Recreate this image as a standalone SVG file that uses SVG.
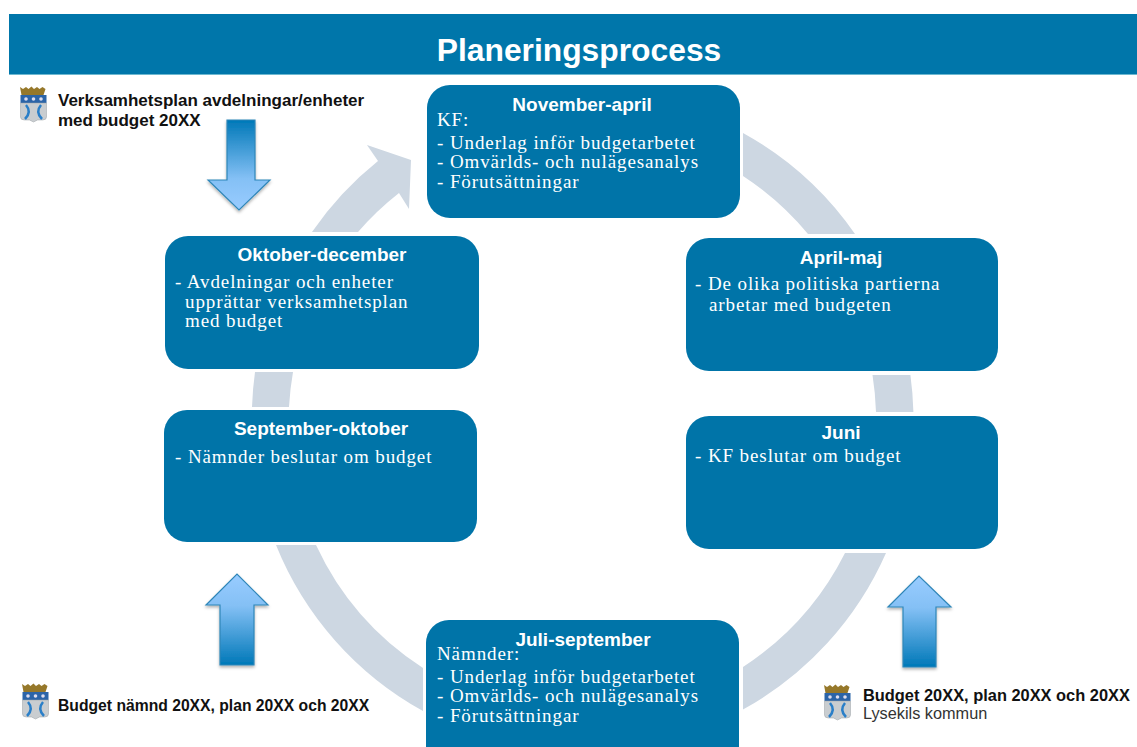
<svg xmlns="http://www.w3.org/2000/svg" xmlns:xlink="http://www.w3.org/1999/xlink" width="1137" height="747" viewBox="0 0 1137 747">
<style>
.box{fill:#0074a8}
.h{font:bold 19px "Liberation Sans",Arial,sans-serif;fill:#fff;text-anchor:middle}
.b{font:19px "Liberation Serif","Times New Roman",serif;fill:#fff;letter-spacing:.9px}
.l{font-family:"Liberation Sans",Arial,sans-serif;font-weight:bold;fill:#111}
.r{fill:#cdd7e2}
.a{fill:url(#up);stroke:#2f86b8;stroke-width:1.2;filter:url(#sh)}
.d{fill:url(#down);stroke:#2f86b8;stroke-width:1.2;filter:url(#sh)}
</style>
<defs>
<linearGradient id="up" x1="0" y1="0" x2="0" y2="1"><stop offset="0" stop-color="#99ccff"/><stop offset="0.35" stop-color="#84c0f5"/><stop offset="1" stop-color="#0078b8"/></linearGradient>
<linearGradient id="down" x1="0" y1="1" x2="0" y2="0"><stop offset="0" stop-color="#99ccff"/><stop offset="0.35" stop-color="#84c0f5"/><stop offset="1" stop-color="#0078b8"/></linearGradient>
<filter id="sh" x="-20%" y="-10%" width="140%" height="125%"><feDropShadow dx="0" dy="2" stdDeviation="1.500" flood-color="#000" flood-opacity="0.3"/></filter>
<g id="shield">
<path d="M0 3l3 2 3-2 2.500 2 3-2.500 2.500 2.500 3-2 2.500 2 3-2 3 2-2 6h-22z" fill="#96782a"/>
<rect x="0.500" y="11" width="26" height="8" fill="#2b64a8"/>
<path d="M0.500 19h26v14q0 3-4 3h-5l-4 2-4-2h-5q-4 0-4-3z" fill="#c9cdd0" stroke="#9aa0a4" stroke-width="0.500"/>
<circle cx="6" cy="15" r="1.800" fill="#dde"/><circle cx="13.500" cy="15" r="1.800" fill="#dde"/><circle cx="21" cy="15" r="1.800" fill="#dde"/>
<path d="M6 21q6 7-1 14M21 21q-6 7 1 14" fill="none" stroke="#2a7fc8" stroke-width="2.500"/>
</g>
</defs>
<rect width="1137" height="747" fill="#fff"/>
<g id="header">
<rect x="9" y="14" width="1128" height="60" fill="#0076aa"/>
<rect x="9" y="74" width="1128" height="1" fill="#6db8d0"/>
<text x="579" y="61" font-family="Liberation Sans,Arial,sans-serif" font-weight="bold" font-size="31.800" fill="#fff" text-anchor="middle">Planeringsprocess</text>
</g>
<g id="connectors">
<path class="r" d="M743 133A331 331 0 0 1 855 234L808 234A293.500 293.500 0 0 0 743 176Z"/>
<path class="r" d="M910.400 375A331 331 0 0 1 913.400 412L876 412A293.500 293.500 0 0 0 872.500 375Z"/>
<path class="r" d="M886 553A331 331 0 0 1 743 709.500L743 667A293.500 293.500 0 0 0 845 553Z"/>
<path class="r" d="M276 545A331 331 0 0 0 423 711L423 668A293.500 293.500 0 0 1 316 545Z"/>
<path class="r" d="M252 407A331 331 0 0 1 255 372L293 372A293.500 293.500 0 0 0 289 407Z"/>
<path class="r" d="M312 232A331 331 0 0 1 378 161L367 145L411 160L409 209L399 193A293.500 293.500 0 0 0 358 232Z"/>
</g>
<g id="node-nov"><rect class="box" x="427" y="85" width="313" height="133" rx="23"/>
<text class="h" x="582" y="111">November-april</text>
<text class="b" x="437" y="126">KF:</text>
<text class="b" x="437" y="149">- Underlag inför budgetarbetet</text>
<text class="b" x="437" y="168">- Omvärlds- och nulägesanalys</text>
<text class="b" x="437" y="188">- Förutsättningar</text></g>
<g id="node-okt"><rect class="box" x="165" y="236" width="314" height="133" rx="23"/>
<text class="h" x="322" y="261">Oktober-december</text>
<text class="b" x="175" y="288">- Avdelningar och enheter</text>
<text class="b" x="185" y="308">upprättar verksamhetsplan</text>
<text class="b" x="185" y="327">med budget</text></g>
<g id="node-sep"><rect class="box" x="164" y="410" width="313" height="132" rx="23"/>
<text class="h" x="321" y="435">September-oktober</text>
<text class="b" x="175" y="463">- Nämnder beslutar om budget</text></g>
<g id="node-apr"><rect class="box" x="686" y="238" width="312" height="133" rx="23"/>
<text class="h" x="841" y="264">April-maj</text>
<text class="b" x="695" y="290">- De olika politiska partierna</text>
<text class="b" x="709" y="311">arbetar med budgeten</text></g>
<g id="node-jun"><rect class="box" x="686" y="416" width="312" height="133" rx="23"/>
<text class="h" x="841" y="439">Juni</text>
<text class="b" x="695" y="462">- KF beslutar om budget</text></g>
<g id="node-jul"><rect class="box" x="426" y="620" width="313" height="150" rx="23"/>
<text class="h" x="583" y="646">Juli-september</text>
<text class="b" x="437" y="660">Nämnder:</text>
<text class="b" x="437" y="683">- Underlag inför budgetarbetet</text>
<text class="b" x="437" y="702">- Omvärlds- och nulägesanalys</text>
<text class="b" x="437" y="722">- Förutsättningar</text></g>
<g id="arrow-1"><polygon class="d" points="227,120 255,120 255,180 270,180 239,210 208,180 227,180"/></g>
<g id="arrow-2"><polygon class="a" points="220,665 254,665 254,605 268,605 237,574 206,605 220,605"/></g>
<g id="arrow-3"><polygon class="a" points="903,667 936,667 936,607 951,607 919,576 888,607 903,607"/></g>
<g id="label-1"><use href="#shield" x="20" y="84"/>
<text class="l" font-size="17" x="58" y="106">Verksamhetsplan avdelningar/enheter</text>
<text class="l" font-size="17" x="58" y="126">med budget 20XX</text></g>
<g id="label-2"><use href="#shield" x="22" y="681"/>
<text class="l" font-size="15.700" x="58" y="711">Budget nämnd 20XX, plan 20XX och 20XX</text></g>
<g id="label-3"><use href="#shield" x="824" y="682"/>
<text class="l" font-size="16.400" x="863" y="701">Budget 20XX, plan 20XX och 20XX</text>
<text x="863" y="719" font-family="Liberation Sans,Arial,sans-serif" font-size="16.300" fill="#333">Lysekils kommun</text></g>
</svg>
